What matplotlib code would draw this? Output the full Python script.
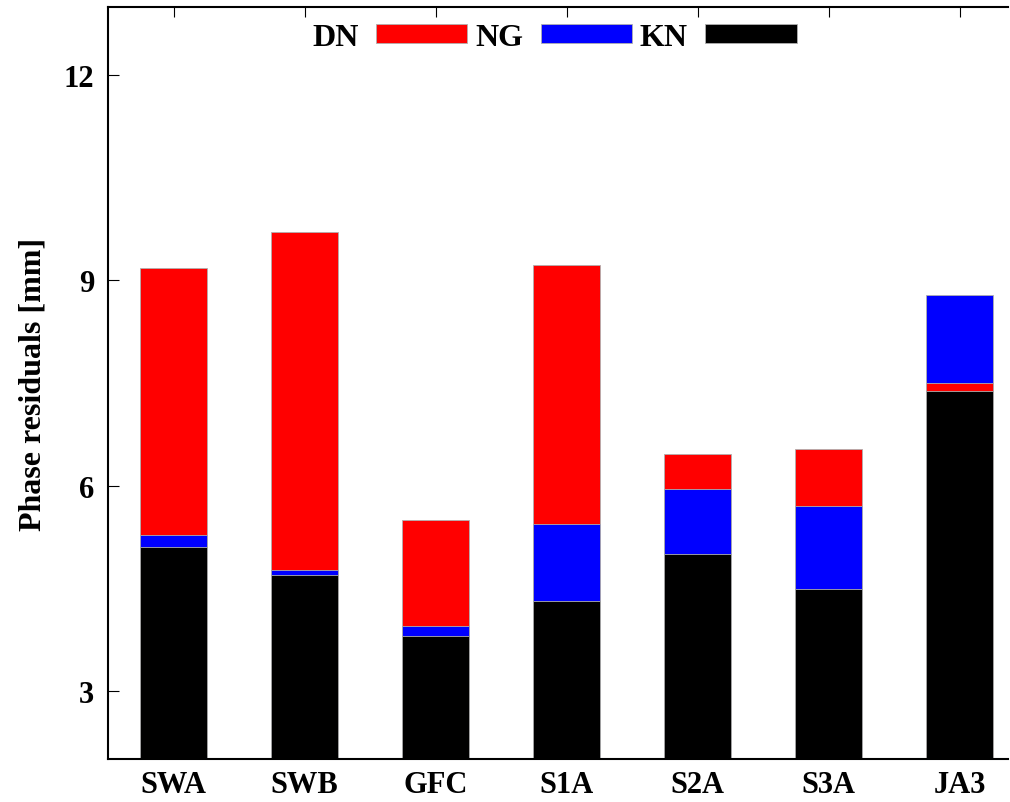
import numpy as np
import matplotlib
matplotlib.use('Agg')
import matplotlib.pyplot as plt
from matplotlib.patches import Patch

# satellites and phase residuals per processing variant [mm]
satellites = ['SWA', 'SWB', 'GFC', 'S1A', 'S2A', 'S3A', 'JA3']
dn = [9.18, 9.71, 5.50, 9.22, 6.46, 6.54, 7.50]
ng = [5.27, 4.77, 3.95, 5.44, 5.95, 5.70, 8.79]
kn = [5.10, 4.69, 3.80, 4.31, 5.00, 4.48, 7.38]

series_names = ['DN', 'NG', 'KN']
series_colors = ['#ff0000', '#0000ff', '#000000']

plt.rcParams['font.family'] = ['Liberation Serif', 'DejaVu Serif']
plt.rcParams['font.weight'] = 'bold'

fig = plt.figure(figsize=(10.1, 8.03), dpi=100)
ax = fig.add_axes([0.107, 0.0535, 0.891, 0.9365])

x = np.arange(len(satellites))
width = 0.51

# bars overlap: tallest drawn first so the shorter ones stay visible
for i in range(len(satellites)):
    vals = [dn[i], ng[i], kn[i]]
    order = np.argsort(vals)[::-1]
    for rank, k in enumerate(order):
        ax.bar(x[i], vals[k], width=width, color=series_colors[k],
               edgecolor='#b0b0b0', linewidth=0.6, zorder=2 + rank)

ax.set_xlim(-0.5, 6.37)
ax.set_ylim(2, 13)
ax.set_yticks([3, 6, 9, 12])
ax.set_xticks(x)
ax.set_xticklabels(satellites)

ax.tick_params(axis='both', direction='in', labelsize=22, width=0.8)
ax.tick_params(axis='x', top=True, length=7.5, pad=8)
ax.tick_params(axis='y', right=False, length=8, pad=10)
ax.spines['right'].set_visible(False)
for sp in ax.spines.values():
    sp.set_linewidth(1.5)
    sp.set_zorder(10)

ax.set_ylabel('Phase residuals [mm]', fontsize=23, fontweight='bold')
ax.yaxis.set_label_coords(-0.067, 0.5)

handles = [Patch(facecolor=c, edgecolor='#b0b0b0', linewidth=0.6) for c in series_colors]
ax.legend(handles, series_names, ncol=3, loc='center', bbox_to_anchor=(0.496, 0.96),
          frameon=False, markerfirst=False, fontsize=23, handlelength=2.85,
          handleheight=0.56, handletextpad=0.55, columnspacing=0.25,
          borderpad=0, borderaxespad=0)

fig.savefig('out.png', dpi=100)
